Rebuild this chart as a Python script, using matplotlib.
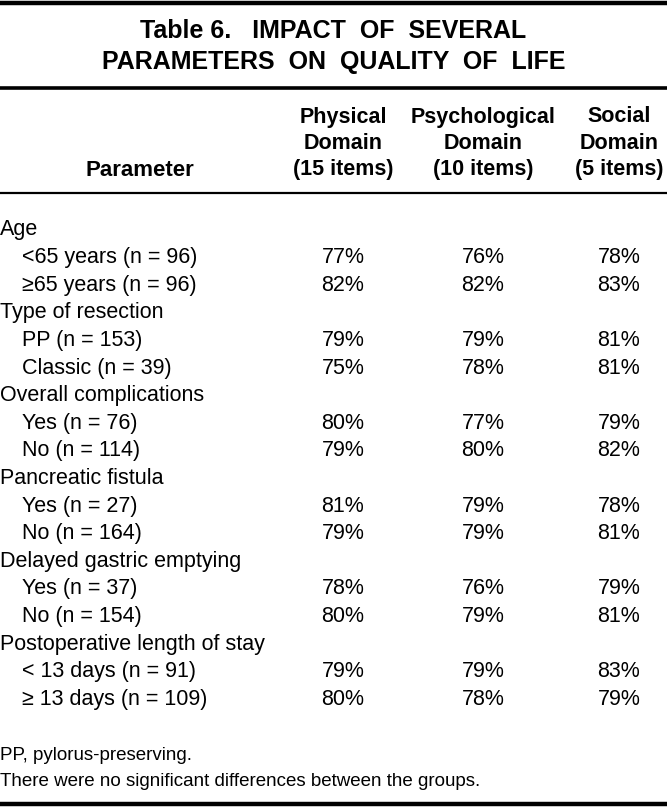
import matplotlib.pyplot as plt
from matplotlib.lines import Line2D
from matplotlib import font_manager

# table content
title_lines = ["Table 6.   IMPACT  OF  SEVERAL", "PARAMETERS  ON  QUALITY  OF  LIFE"]
col_headers = ["Physical\nDomain\n(15 items)", "Psychological\nDomain\n(10 items)", "Social\nDomain\n(5 items)"]
groups = ["Age", "Type of resection", "Overall complications", "Pancreatic fistula",
          "Delayed gastric emptying", "Postoperative length of stay"]
sub_labels = [
    ["<65 years (n = 96)", "\u226565 years (n = 96)"],
    ["PP (n = 153)", "Classic (n = 39)"],
    ["Yes (n = 76)", "No (n = 114)"],
    ["Yes (n = 27)", "No (n = 164)"],
    ["Yes (n = 37)", "No (n = 154)"],
    ["< 13 days (n = 91)", "\u2265 13 days (n = 109)"],
]
physical = [[77, 82], [79, 75], [80, 79], [81, 79], [78, 80], [79, 80]]
psychological = [[76, 82], [79, 78], [77, 80], [79, 79], [76, 79], [79, 78]]
social = [[78, 83], [81, 81], [79, 82], [78, 81], [79, 81], [83, 79]]
footnotes = ["PP, pylorus-preserving.", "There were no significant differences between the groups."]

names = {f.name for f in font_manager.fontManager.ttflist}
fam = ['Liberation Sans Narrow'] if 'Liberation Sans Narrow' in names else ['Liberation Sans']
plt.rcParams['font.family'] = fam + ['DejaVu Sans']

W, H = 667, 807
fig = plt.figure(figsize=(W / 100, H / 100), dpi=100)


def txt(x, y, s, **kw):
    fig.text(x / W, 1 - y / H, s, va='center', **kw)


def hline(y, lw):
    fig.add_artist(Line2D([0, 1], [1 - y / H, 1 - y / H], color='black', lw=lw))


hline(3, 3.2)
hline(88, 2.6)
hline(193, 1.6)
hline(804, 3.2)

txt(W / 2, 31, title_lines[0], ha='center', fontsize=18, fontweight='bold')
txt(W / 2, 62, title_lines[1], ha='center', fontsize=18, fontweight='bold')

col_x = [343, 483, 619]
body = 15.5
txt(140, 170, "Parameter", ha='center', fontsize=16, fontweight='bold')
for cx, h in zip(col_x, col_headers):
    for k, line in enumerate(h.split("\n")):
        txt(cx, 117 + k * 26.5, line, ha='center', fontsize=15.5, fontweight='bold')

y = 230
step = 27.6
for g, subs, p1, p2, p3 in zip(groups, sub_labels, physical, psychological, social):
    txt(0, y, g, ha='left', fontsize=body)
    y += step
    for s, a, b, c in zip(subs, p1, p2, p3):
        txt(22, y, s, ha='left', fontsize=body)
        for cx, v in zip(col_x, (a, b, c)):
            txt(cx, y, f"{v}%", ha='center', fontsize=body)
        y += step

txt(0, 756, footnotes[0], ha='left', fontsize=13.5)
txt(0, 781, footnotes[1], ha='left', fontsize=13.5)

fig.savefig("out.png", dpi=100)
